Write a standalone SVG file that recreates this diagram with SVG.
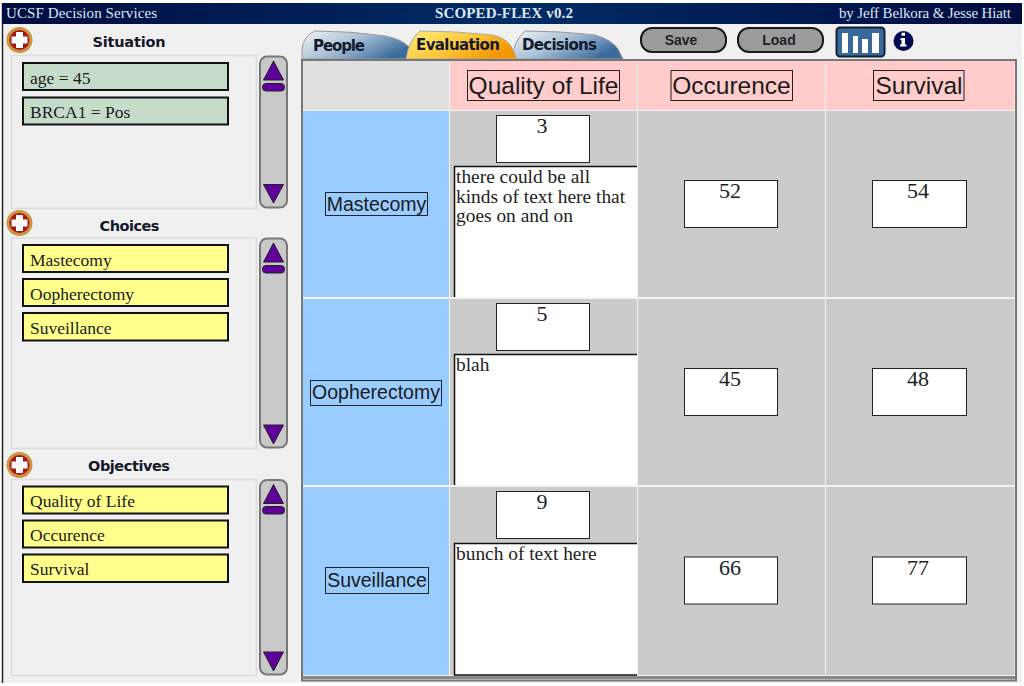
<svg xmlns="http://www.w3.org/2000/svg" width="1024" height="686" viewBox="0 0 1024 686">
<style>
.hd{font-family:"Liberation Serif",serif;font-size:15px;fill:#dfe6f0}
.ttl{font-family:"DejaVu Sans",sans-serif;font-weight:bold;font-size:14.5px;fill:#14182a;text-anchor:middle}
.tab{font-family:"DejaVu Sans",sans-serif;font-weight:bold;font-size:15px;fill:#121a2c}
.it{font-family:"Liberation Serif",serif;font-size:17.5px;fill:#1a1a1a}
.panel{fill:#f0f0f0;stroke:#dcdcdc;stroke-width:1.5}
.gi{fill:#c5dccb;stroke:#111;stroke-width:2}
.yi{fill:#ffff8c;stroke:#111;stroke-width:2}
.track{fill:#c9c9c9;stroke:#777;stroke-width:2}
.pu{fill:#5f009b;stroke:#222;stroke-width:1}
.cell{fill:#cbcbcb}
.lab{fill:none;stroke:#222;stroke-width:1}
.ls{font-family:"Liberation Sans",sans-serif;fill:#1a1a1a;text-anchor:middle}
.box{fill:#fff;stroke:#222;stroke-width:1}
.num{font-family:"Liberation Serif",serif;font-size:22px;fill:#222;text-anchor:middle}
.note{font-family:"Liberation Serif",serif;font-size:19.4px;fill:#222}
.ed{fill:none;stroke:#111;stroke-width:1.5}
.btn{fill:#9b9b9b;stroke:#1a1a1a;stroke-width:2}
.bt{font-family:"Liberation Sans",sans-serif;font-weight:bold;font-size:14px;fill:#222;text-anchor:middle}
</style>
<defs>
<linearGradient id="hg" x1="0" x2="1" y1="0" y2="0"><stop offset="0" stop-color="#000c40"/><stop offset="0.5" stop-color="#002c66"/><stop offset="1" stop-color="#000c40"/></linearGradient>
<linearGradient id="tb" x1="0" x2="1" y1="0" y2="0.5"><stop offset="0" stop-color="#f3f3f3"/><stop offset="0.5" stop-color="#a9c1d8"/><stop offset="1" stop-color="#3c6c9c"/></linearGradient>
<linearGradient id="ty" x1="0" x2="1" y1="0" y2="0.5"><stop offset="0" stop-color="#fff07a"/><stop offset="0.55" stop-color="#ffc83c"/><stop offset="1" stop-color="#f59600"/></linearGradient>
<g id="plus"><circle r="11.500" fill="#a8141c" stroke="#c8953c" stroke-width="3"/><path d="M-3.500-8h7v4.500h4.500v7h-4.500v4.500h-7v-4.500h-4.500v-7h4.500z" fill="#fff"/></g>
</defs>
<rect width="1024" height="686" fill="#fff"/>
<rect x="3" y="3" width="1019" height="680" fill="#f0f0f0"/>
<path d="M2.500 3V683" stroke="#222" stroke-width="1.500"/>
<rect x="2" y="3" width="1020" height="21" fill="url(#hg)"/>
<text class="hd" x="6" y="18" textLength="151">UCSF Decision Services</text>
<text class="hd" x="435" y="18" font-weight="bold" textLength="138">SCOPED-FLEX v0.2</text>
<text class="hd" x="839" y="18" textLength="172">by Jeff Belkora &amp; Jesse Hiatt</text>

<g id="situation">
<use href="#plus" x="19.500" y="40"/>
<text class="ttl" x="129" y="47" textLength="73">Situation</text>
<rect class="panel" x="11.500" y="55.500" width="245" height="153"/>
<rect class="gi" x="23" y="63" width="205" height="27"/><text class="it" x="30" y="84">age = 45</text>
<rect class="gi" x="23" y="97.500" width="205" height="27"/><text class="it" x="30" y="118">BRCA1 = Pos</text>
<rect class="track" x="260" y="56.500" width="27" height="151" rx="7"/>
<path class="pu" d="M273.500 61L283.500 80H263.500Z"/><rect class="pu" x="262.500" y="83.500" width="22" height="7.500" rx="3.500"/><path class="pu" d="M273.500 203L263.500 184.500H283.500Z"/>
</g>
<g id="choices">
<use href="#plus" x="19.500" y="223"/>
<text class="ttl" x="129.500" y="231" textLength="60">Choices</text>
<rect class="panel" x="11.500" y="238" width="245" height="210.500"/>
<rect class="yi" x="23" y="245" width="205" height="27"/><text class="it" x="30" y="266">Mastecomy</text>
<rect class="yi" x="23" y="279" width="205" height="27"/><text class="it" x="30" y="300">Oopherectomy</text>
<rect class="yi" x="23" y="313" width="205" height="27.500"/><text class="it" x="30" y="334">Suveillance</text>
<rect class="track" x="260" y="238.500" width="27" height="209" rx="7"/>
<path class="pu" d="M273.500 243L283.500 262H263.500Z"/><rect class="pu" x="262.500" y="265.500" width="22" height="7.500" rx="3.500"/><path class="pu" d="M273.500 444L263.500 425H283.500Z"/>
</g>
<g id="objectives">
<use href="#plus" x="19.500" y="465"/>
<text class="ttl" x="129" y="471" textLength="82">Objectives</text>
<rect class="panel" x="11.500" y="479.500" width="245" height="196"/>
<rect class="yi" x="23" y="486.500" width="205" height="27"/><text class="it" x="30" y="507">Quality of Life</text>
<rect class="yi" x="23" y="520.500" width="205" height="27"/><text class="it" x="30" y="541">Occurence</text>
<rect class="yi" x="23" y="554.500" width="205" height="27.500"/><text class="it" x="30" y="575">Survival</text>
<rect class="track" x="260" y="480" width="27" height="194.500" rx="7"/>
<path class="pu" d="M273.500 484.500L283.500 503.500H263.500Z"/><rect class="pu" x="262.500" y="506.500" width="22" height="7.500" rx="3.500"/><path class="pu" d="M273.500 671L263.500 652H283.500Z"/>
</g>

<g id="tabs">
<g id="tab-people"><path d="M302 59V50Q303 36 315 31Q350 31 385 36Q402 39 410 48L414 59Z" fill="url(#tb)" stroke="#999" stroke-width="1"/><text class="tab" x="313" y="51" textLength="52">People</text></g>
<g id="tab-decisions"><path d="M512 59Q514 40 525 31Q560 31 595 35Q612 40 618 49L623 59Z" fill="url(#tb)" stroke="#999" stroke-width="1"/><text class="tab" x="522" y="50" textLength="75">Decisions</text></g>
<g id="tab-evaluation"><path d="M406 59Q409 40 420 31Q455 31 492 35Q506 38 511 46L517 59Z" fill="url(#ty)" stroke="#aaa" stroke-width="1"/><text class="tab" x="416" y="50" textLength="84">Evaluation</text></g>
</g>

<g id="save"><rect class="btn" x="641" y="28" width="85" height="24" rx="11"/><text class="bt" x="681" y="45">Save</text></g>
<g id="load"><rect class="btn" x="738" y="28" width="85" height="24" rx="11"/><text class="bt" x="779" y="45">Load</text></g>
<g id="chart"><rect x="836.500" y="27.500" width="48" height="29" rx="3.500" fill="#38689c" stroke="#14202e" stroke-width="2"/><path d="M842 33h6v20h-6zM853 36h5v17h-5zM862 39h6v14h-6zM872 33h7v20h-7z" fill="#fff"/></g>
<g id="info"><circle cx="903.500" cy="41" r="10" fill="#000a50"/><path d="M901 38h4V44.500h1.500v2h-6.500v-2h1.500v-4.500h-1.500zM901.600 32.800h3.400v3h-3.400z" fill="#fff"/></g>

<g id="table">
<rect x="302" y="60" width="714" height="620.500" fill="#f4f4f4" stroke="#777" stroke-width="2"/>
<rect x="303" y="61" width="146" height="49" fill="#e0e0e0"/>
<rect x="450" y="61" width="187" height="49" fill="#ffcbcb"/>
<rect x="638" y="61" width="187" height="49" fill="#ffcbcb"/>
<rect x="826" y="61" width="188.500" height="49" fill="#ffcbcb"/>
<rect x="303" y="111" width="146" height="186" fill="#99ccff"/>
<rect x="303" y="299" width="146" height="186" fill="#99ccff"/>
<rect x="303" y="487" width="146" height="188" fill="#99ccff"/>
<g class="cell">
<rect x="450" y="111" width="187" height="186"/><rect x="638" y="111" width="187" height="186"/><rect x="826" y="111" width="188.500" height="186"/>
<rect x="450" y="299" width="187" height="186"/><rect x="638" y="299" width="187" height="186"/><rect x="826" y="299" width="188.500" height="186"/>
<rect x="450" y="487" width="187" height="188"/><rect x="638" y="487" width="187" height="188"/><rect x="826" y="487" width="188.500" height="188"/>
</g>
<path d="M303 677.500H1015" stroke="#888" stroke-width="3"/>
</g>

<g id="col-quality"><rect class="lab" x="467.500" y="70.500" width="152" height="30"/><text class="ls" x="543.500" y="94" font-size="24.500">Quality of Life</text></g>
<g id="col-occurence"><rect class="lab" x="671" y="70.500" width="121.500" height="30"/><text class="ls" x="731.500" y="94" font-size="24.500">Occurence</text></g>
<g id="col-survival"><rect class="lab" x="873.500" y="70.500" width="90.500" height="30"/><text class="ls" x="919" y="94" font-size="24.500">Survival</text></g>

<g id="row-mastecomy"><rect class="lab" x="325.500" y="192.500" width="102" height="23"/><text class="ls" x="376.500" y="211" font-size="19.500">Mastecomy</text></g>
<g id="row-oopherectomy"><rect class="lab" x="310.500" y="380.500" width="131" height="25"/><text class="ls" x="376" y="399" font-size="19.500">Oopherectomy</text></g>
<g id="row-suveillance"><rect class="lab" x="325.500" y="567.500" width="103" height="26"/><text class="ls" x="377" y="587" font-size="19.500">Suveillance</text></g>

<g id="r1c1"><rect class="box" x="496.500" y="115.500" width="93" height="47"/><text class="num" x="542" y="133">3</text>
<rect x="454.500" y="166.500" width="182.500" height="130.500" fill="#fff"/><path class="ed" d="M637 166.500H454.500V297"/><text class="note" x="456" y="183">there could be all</text><text class="note" x="456" y="203">kinds of text here that</text><text class="note" x="456" y="222">goes on and on</text></g>
<g id="r1c2"><rect class="box" x="684.500" y="180.500" width="93" height="47"/><text class="num" x="730" y="198">52</text></g>
<g id="r1c3"><rect class="box" x="872.500" y="180.500" width="94" height="47"/><text class="num" x="918" y="198">54</text></g>

<g id="r2c1"><rect class="box" x="496.500" y="303.500" width="93" height="47"/><text class="num" x="542" y="321">5</text>
<rect x="454.500" y="354.500" width="182.500" height="130.500" fill="#fff"/><path class="ed" d="M637 354.500H454.500V485"/><text class="note" x="456" y="371">blah</text></g>
<g id="r2c2"><rect class="box" x="684.500" y="368.500" width="93" height="47"/><text class="num" x="730" y="386">45</text></g>
<g id="r2c3"><rect class="box" x="872.500" y="368.500" width="94" height="47"/><text class="num" x="918" y="386">48</text></g>

<g id="r3c1"><rect class="box" x="496.500" y="491.500" width="93" height="47"/><text class="num" x="542" y="509">9</text>
<rect x="454.500" y="543.500" width="182.500" height="131.500" fill="#fff"/><path class="ed" d="M637 543.500H454.500V675H637"/><text class="note" x="456" y="560">bunch of text here</text></g>
<g id="r3c2"><rect class="box" x="684.500" y="557" width="93" height="47"/><text class="num" x="730" y="575">66</text></g>
<g id="r3c3"><rect class="box" x="872.500" y="557" width="94" height="47"/><text class="num" x="918" y="575">77</text></g>
</svg>
